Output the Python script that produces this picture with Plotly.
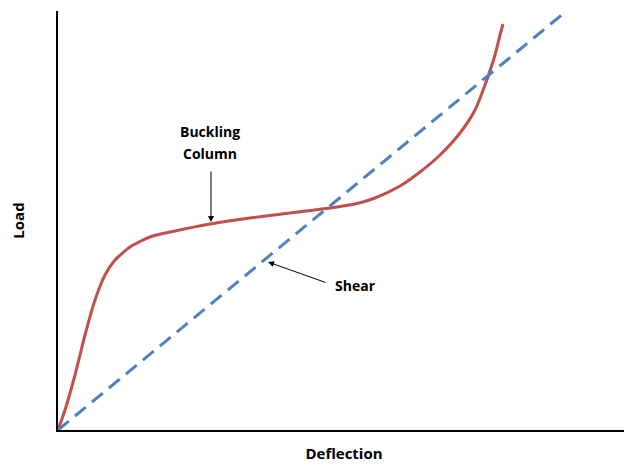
import plotly.graph_objects as go

# Buckling column curve (arbitrary units)
buckling_x = [0, 7, 17, 27, 37, 47, 57, 72, 92, 117, 152, 192, 232, 272, 297, 317, 342, 362, 382, 402, 417, 427, 437, 442, 445]
buckling_y = [0, 20, 55, 95, 130, 155, 170, 183, 193, 199, 206, 212, 217, 222, 226, 232, 244, 258, 275, 297, 320, 345, 375, 395, 406]

# Shear line
shear_x = [0, 506]
shear_y = [0, 417]

x_title = "Deflection"
y_title = "Load"

fig = go.Figure()
fig.add_trace(go.Scatter(x=buckling_x, y=buckling_y, mode="lines",
                         line=dict(color="#C0504D", width=3, shape="spline", smoothing=0.6),
                         showlegend=False, hoverinfo="skip"))
fig.add_trace(go.Scatter(x=shear_x, y=shear_y, mode="lines",
                         line=dict(color="#4F81BD", width=3, dash="14px,8px"),
                         showlegend=False, hoverinfo="skip"))

fnt = dict(family="Open Sans, Liberation Sans, sans-serif", size=14, color="black")
fig.add_annotation(x=153, y=208, ax=153, ay=260, axref="x", ayref="y",
                   text="", showarrow=True, arrowhead=2, arrowsize=1.2, arrowwidth=1, arrowcolor="black")
fig.add_annotation(x=152, y=299, text="<b>Buckling</b>", showarrow=False, font=fnt)
fig.add_annotation(x=152, y=277, text="<b>Column</b>", showarrow=False, font=fnt)
fig.add_annotation(x=210, y=168, ax=269, ay=147, axref="x", ayref="y",
                   text="", showarrow=True, arrowhead=2, arrowsize=1.2, arrowwidth=1, arrowcolor="black")
fig.add_annotation(x=297, y=145, text="<b>Shear</b>", showarrow=False, font=fnt)

fig.update_xaxes(range=[0, 572], showline=True, linecolor="black", linewidth=2, automargin=False,
                 showgrid=False, zeroline=False, showticklabels=False, ticks="",
                 title=dict(text="<b>" + x_title + "</b>", font=dict(family="Open Sans, sans-serif", size=15, color="black"), standoff=17))
fig.update_yaxes(range=[0, 419], showline=True, linecolor="black", linewidth=2, automargin=False,
                 showgrid=False, zeroline=False, showticklabels=False, ticks="",
                 title=dict(text="<b>" + y_title + "</b>", font=dict(family="Open Sans, sans-serif", size=15, color="black"), standoff=30))
fig.update_layout(width=624, height=458, margin=dict(l=50, r=2, t=3, b=36),
                  plot_bgcolor="white", paper_bgcolor="white")
fig.write_html("out.html")
